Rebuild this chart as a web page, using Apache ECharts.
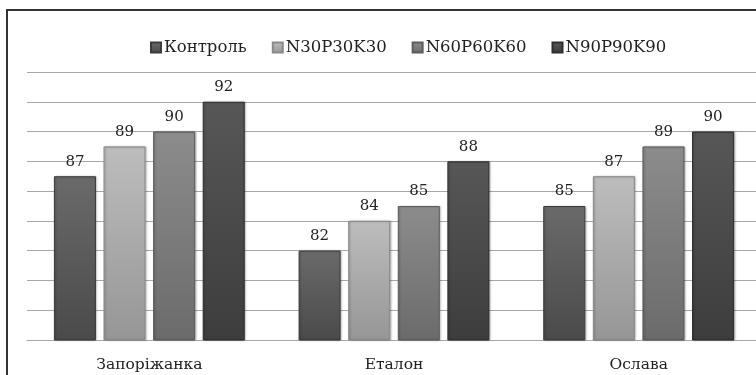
<!DOCTYPE html>
<html>
<head>
<meta charset="utf-8">
<script src="https://cdn.jsdelivr.net/npm/echarts@6/dist/echarts.min.js"></script>
<style>
html,body{margin:0;padding:0;background:#fff;overflow:hidden;}
#c{width:766px;height:375px;}
</style>
</head>
<body>
<div id="c"></div>
<script>
var categories = ['Запоріжанка', 'Еталон', 'Ослава'];
var seriesNames = ['Контроль', 'N30P30K30', 'N60P60K60', 'N90P90K90'];
var kontrol = [87, 82, 85];
var n30 = [89, 84, 87];
var n60 = [90, 85, 89];
var n90 = [92, 88, 90];
var yMin = 76, yMax = 94, yStep = 2;

var values = [kontrol, n30, n60, n90];
var tops = ['#6a6a6a', '#bdbdbd', '#8c8c8c', '#575757'];
var bottoms = ['#4a4a4a', '#969696', '#6b6b6b', '#3d3d3d'];
var borders = ['#3c3c3c', '#8a8a8a', '#5c5c5c', '#2e2e2e'];
var FONT = 'DejaVu Serif';

function grad(i) {
  return new echarts.graphic.LinearGradient(0, 0, 0, 1, [
    {offset: 0, color: tops[i]},
    {offset: 1, color: bottoms[i]}
  ]);
}

var chart = echarts.init(document.getElementById('c'));
var series = seriesNames.map(function (name, i) {
  return {
    name: name,
    type: 'bar',
    data: values[i],
    barGap: '18%',
    barCategoryGap: '22%',
    itemStyle: {
      color: grad(i),
      borderColor: borders[i],
      borderWidth: 1,
      shadowColor: 'rgba(0,0,0,0.25)',
      shadowBlur: 2,
      shadowOffsetX: 1
    },
    label: {
      show: true,
      position: 'top',
      distance: 7,
      fontFamily: FONT,
      fontSize: 15,
      color: '#222'
    }
  };
});

chart.setOption({
  animation: false,
  textStyle: {fontFamily: FONT},
  graphic: [{
    type: 'rect',
    shape: {x: 7, y: 10, width: 800, height: 400},
    style: {fill: 'none', stroke: '#333', lineWidth: 2},
    silent: true
  }],
  legend: {
    left: 145,
    top: 34,
    itemWidth: 10,
    itemHeight: 10,
    itemGap: 25,
    icon: 'rect',
    textStyle: {fontFamily: FONT, fontSize: 16.5, color: '#222', padding: [0, 0, 0, -2]},
    data: seriesNames
  },
  grid: {left: 27, right: 5, top: 72, bottom: 35, containLabel: false},
  xAxis: {
    type: 'category',
    data: categories,
    axisLine: {show: true, lineStyle: {color: '#a8a8a8', width: 1}},
    axisTick: {show: false},
    axisLabel: {fontFamily: FONT, fontSize: 15.5, color: '#222', margin: 17}
  },
  yAxis: {
    type: 'value',
    min: yMin,
    max: yMax,
    interval: yStep,
    axisLabel: {show: false},
    axisLine: {show: false},
    axisTick: {show: false},
    splitLine: {lineStyle: {color: '#a8a8a8', width: 1}}
  },
  series: series
});
</script>
</body>
</html>
